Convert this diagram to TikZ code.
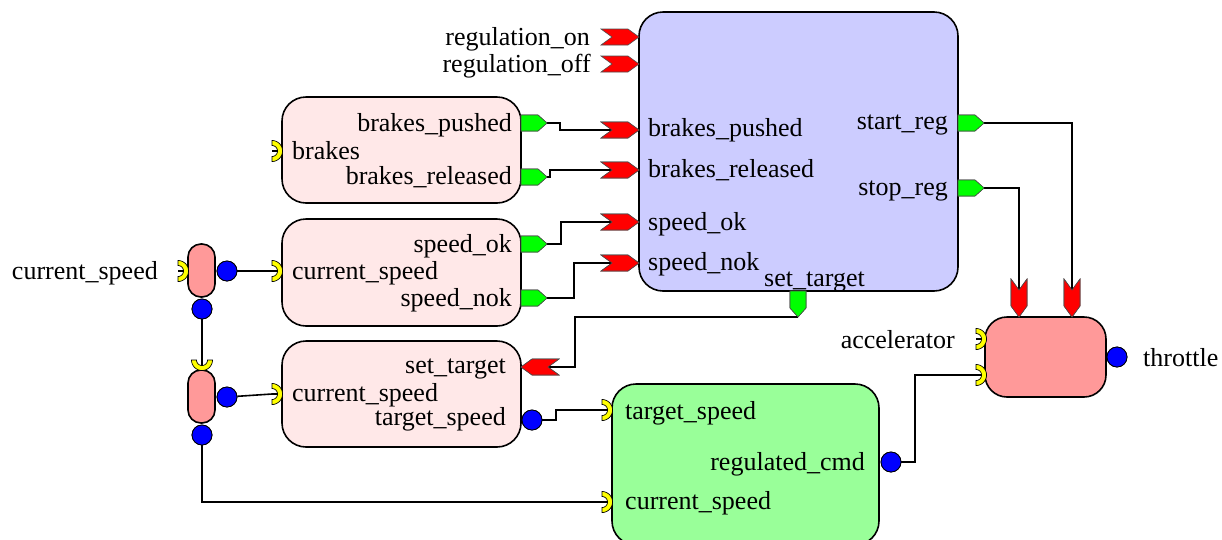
\documentclass[tikz,border=0pt]{standalone}
\usepackage{fontspec}
\setmainfont{Liberation Serif}
\usetikzlibrary{calc}

\definecolor{ctrlblue}{HTML}{CCCCFF}
\definecolor{blockpink}{HTML}{FFE8E8}
\definecolor{pillred}{HTML}{FF9999}
\definecolor{reggreen}{HTML}{99FF99}
\definecolor{evred}{HTML}{FF0000}
\definecolor{evgreen}{HTML}{00FF00}
\definecolor{sockyellow}{HTML}{FFFF00}
\definecolor{dotblue}{HTML}{0000FF}

\tikzset{
  block/.style={rectangle, draw=black, line width=1.6pt, rounded corners=24pt,
    inner sep=0pt, outer sep=0pt},
  pill/.style={rectangle, draw=black, line width=1.6pt, rounded corners=13pt,
    fill=pillred, minimum width=27pt, minimum height=53pt, inner sep=0pt},
  lbl/.style={font=\fontsize{26}{30}\selectfont, inner sep=0pt,
    text height=20pt, text depth=4pt},
  wire/.style={draw=black, line width=1.6pt},
  dot/.style={circle, fill=dotblue, draw=black, line width=0.8pt,
    minimum size=20pt, inner sep=0pt},
  % event input: red notched chevron, tip at the origin
  evin/.pic={
    \path[fill=evred, draw=black!70, line width=0.6pt]
      (-38,-8) -- (-11,-8) -- (0,0) -- (-11,8) -- (-38,8) -- (-27,0) -- cycle;
    \coordinate (-notch) at (-27,0);
  },
  % event output: green pentagon, base at the origin
  evout/.pic={
    \path[fill=evgreen, draw=black!70, line width=0.6pt]
      (0,-8) -- (17,-8) -- (26,0) -- (17,8) -- (0,8) -- cycle;
    \coordinate (-tip) at (26,0);
  },
  % required data port: yellow half ring, back touching the origin
  socket/.pic={
    \path[fill=sockyellow, draw=black, line width=0.7pt]
      plot[domain=-90:90, samples=25] ({-10+10.5*cos(\x)},{10.5*sin(\x)})
      -- plot[domain=90:-90, samples=25] ({-10+5.5*cos(\x)},{5.5*sin(\x)}) -- cycle;
    \draw[line width=1.2pt] (-10,0) -- (-4.5,0);
    \coordinate (-c) at (-10,0);
  },
}

\begin{document}
\begin{tikzpicture}[x=1pt, y=-1pt]
\useasboundingbox (0,0) rectangle (1222,539);

% ---- blocks ----
\node[block, fill=ctrlblue, minimum width=319pt, minimum height=279pt] (ctrl) at (798.5,151.5) {};
\node[block, fill=blockpink, minimum width=239pt, minimum height=106pt] (brk) at (401.5,150) {};
\node[block, fill=blockpink, minimum width=239pt, minimum height=107pt] (spd) at (401.5,272.5) {};
\node[block, fill=blockpink, minimum width=239pt, minimum height=106pt] (tgt) at (401.5,394) {};
\node[block, fill=reggreen, minimum width=267pt, minimum height=161pt] (reg) at (745.5,464.5) {};
\node[block, fill=pillred, rounded corners=22pt, minimum width=121pt, minimum height=80pt] (thr) at (1045.5,357) {};
\node[pill] (p1) at (201.5,270.5) {};
\node[pill] (p2) at (201.5,396.5) {};

% ---- port anchors ----
\coordinate (rOnI)   at (639,37);
\coordinate (rOffI)  at (639,64);
\coordinate (bpI)    at (639,130);
\coordinate (brI)    at (639,170);
\coordinate (sokI)   at (639,222);
\coordinate (snokI)  at (639,263);

% ---- blue data outputs ----
\node[dot] (d1e) at (227,271) {};
\node[dot] (d1s) at (202,309) {};
\node[dot] (d2e) at (227,397) {};
\node[dot] (d2s) at (202,435) {};
\node[dot] (dT)  at (532,420) {};
\node[dot] (dR)  at (891,462) {};
\node[dot] (dThr) at (1117,357) {};

% ---- ports ----
\pic (rOn)   at (rOnI)  {evin};
\pic (rOff)  at (rOffI) {evin};
\pic (bpIn)  at (bpI)   {evin};
\pic (brIn)  at (brI)   {evin};
\pic (sokIn) at (sokI)  {evin};
\pic (snokIn) at (snokI) {evin};
\pic (startO) at (958,123) {evout};
\pic (stopO)  at (958,188) {evout};
\pic[rotate=-90] (setO) at (798,291) {evout};
\pic (bpO)   at (521,123) {evout};
\pic (brO)   at (521,177) {evout};
\pic (sokO)  at (521,244) {evout};
\pic (snokO) at (521,298) {evout};
\pic[rotate=180] (stI) at (521,367) {evin};
\pic[rotate=-90] (thrA) at (1019,317) {evin};
\pic[rotate=-90] (thrB) at (1072,317) {evin};

\pic (brkS)  at (282,151) {socket};
\pic (spdS)  at (282,271) {socket};
\pic (tgtS)  at (282,394) {socket};
\pic (p1S)   at (188,271) {socket};
\pic[rotate=-90] (p2S) at (202,370) {socket};
\pic (regS1) at (612,410) {socket};
\pic (regS2) at (612,502) {socket};
\pic (thrS1) at (986,339) {socket};
\pic (thrS2) at (986,375) {socket};

% ---- connectors ----
\draw[wire] (bpO-tip) -- ++(13,0) |- (bpIn-notch);
\draw[wire] (brO-tip) -- ++(3,0) |- (brIn-notch);
\draw[wire] (sokO-tip) -- ++(14,0) |- (sokIn-notch);
\draw[wire] (snokO-tip) -- ++(27,0) |- (snokIn-notch);
\draw[wire] (startO-tip) -| (thrB-notch);
\draw[wire] (stopO-tip) -| (thrA-notch);
\draw[wire] (setO-tip) -| ([xshift=27pt]stI-notch) -- (stI-notch);
\draw[wire] (d1e) -- (spdS-c);
\draw[wire] (d1s) -- (p2S-c);
\draw[wire] (d2e) -- (tgtS-c);
\draw[wire] (d2s) |- (regS2-c);
\draw[wire] (dT) -- ++(24,0) |- (regS1-c);
\draw[wire] (dR) -- ++(24,0) |- (thrS2-c);

% ---- redraw ports and dots above the wires ----
\pic (bpIn)  at (bpI)   {evin};
\pic (brIn)  at (brI)   {evin};
\pic (sokIn) at (sokI)  {evin};
\pic (snokIn) at (snokI) {evin};
\pic (startO) at (958,123) {evout};
\pic (stopO)  at (958,188) {evout};
\pic[rotate=-90] (setO) at (798,291) {evout};
\pic (bpO)   at (521,123) {evout};
\pic (brO)   at (521,177) {evout};
\pic (sokO)  at (521,244) {evout};
\pic (snokO) at (521,298) {evout};
\pic[rotate=180] (stI) at (521,367) {evin};
\pic[rotate=-90] (thrA) at (1019,317) {evin};
\pic[rotate=-90] (thrB) at (1072,317) {evin};
\foreach \d in {d1e,d1s,d2e,d2s,dT,dR,dThr}
  \node[dot] at (\d) {};

% ---- labels ----
\node[lbl, anchor=east] (tOn)  at (590,37) {regulation\_on};
\node[lbl, anchor=east] (tOff) at (591,64) {regulation\_off};
\node[lbl, anchor=west] (tc1) at (648,128) {brakes\_pushed};
\node[lbl, anchor=west] (tc2) at (648,169) {brakes\_released};
\node[lbl, anchor=west] (tc3) at (648,222) {speed\_ok};
\node[lbl, anchor=west] (tc4) at (648,262) {speed\_nok};
\node[lbl, anchor=east] (tc5) at (948,121) {start\_reg};
\node[lbl, anchor=east] (tc6) at (948,187) {stop\_reg};
\node[lbl, anchor=east] (tc7) at (865,278) {set\_target};

\node[lbl, anchor=east] (tb1) at (512,123) {brakes\_pushed};
\node[lbl, anchor=west] (tb2) at (292,151) {brakes};
\node[lbl, anchor=east] (tb3) at (512,176) {brakes\_released};

\node[lbl, anchor=east] (ts1) at (512,244) {speed\_ok};
\node[lbl, anchor=west] (ts2) at (292,271) {current\_speed};
\node[lbl, anchor=east] (ts3) at (512,298) {speed\_nok};

\node[lbl, anchor=east] (tt1) at (506,365) {set\_target};
\node[lbl, anchor=west] (tt2) at (292,393) {current\_speed};
\node[lbl, anchor=east] (tt3) at (506,417) {target\_speed};

\node[lbl, anchor=east] (tin) at (158,271) {current\_speed};
\node[lbl, anchor=east] (tacc) at (955,340) {accelerator};
\node[lbl, anchor=west] (tthr) at (1143,358) {throttle};

\node[lbl, anchor=west] (tr1) at (625,411) {target\_speed};
\node[lbl, anchor=east] (tr2) at (865,462) {regulated\_cmd};
\node[lbl, anchor=west] (tr3) at (625,501) {current\_speed};
\end{tikzpicture}
\end{document}
